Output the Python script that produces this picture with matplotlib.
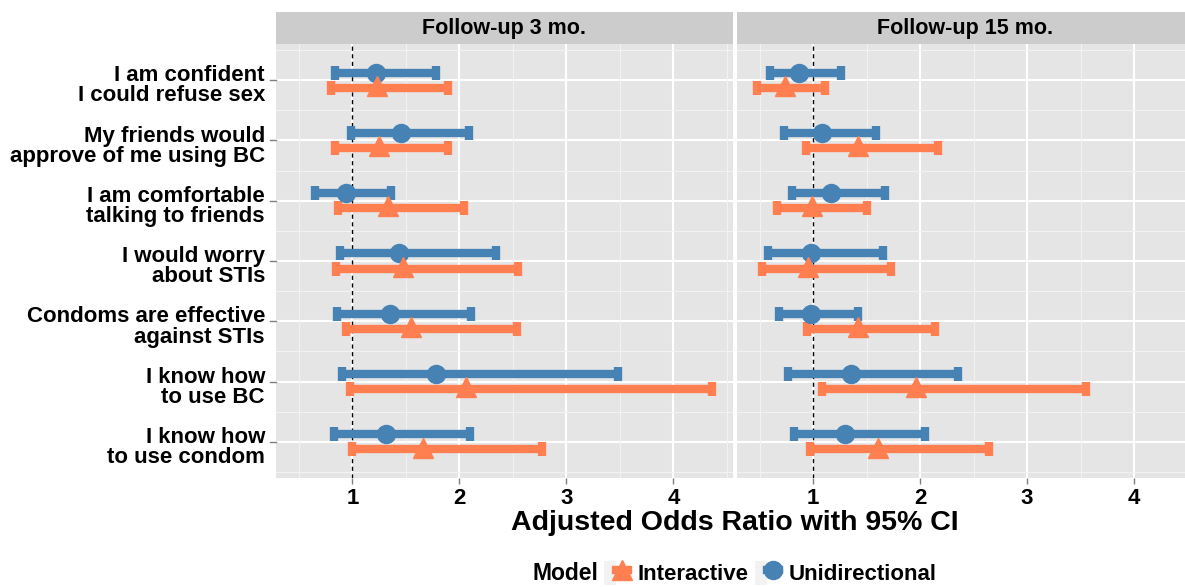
import numpy as np
import matplotlib
matplotlib.use("Agg")
import matplotlib.pyplot as plt
from matplotlib.lines import Line2D
from matplotlib.patches import Rectangle
from matplotlib.legend_handler import HandlerTuple

plt.rcParams["font.family"] = ["Liberation Sans", "DejaVu Sans"]
plt.rcParams["font.weight"] = "bold"

# questionnaire items, top to bottom
items = ["I am confident\nI could refuse sex",
         "My friends would\napprove of me using BC",
         "I am comfortable\ntalking to friends",
         "I would worry\nabout STIs",
         "Condoms are effective\nagainst STIs",
         "I know how\nto use BC",
         "I know how\nto use condom"]

panels = ["Follow-up 3 mo.", "Follow-up 15 mo."]

# follow-up 3 months
uni_est_3 = [1.22, 1.455, 0.944, 1.44, 1.355, 1.78, 1.31]
uni_lo_3 = [0.835, 0.99, 0.655, 0.88, 0.86, 0.90, 0.825]
uni_hi_3 = [1.785, 2.09, 1.365, 2.34, 2.105, 3.48, 2.10]
int_est_3 = [1.23, 1.25, 1.33, 1.47, 1.55, 2.06, 1.66]
int_lo_3 = [0.80, 0.835, 0.87, 0.85, 0.944, 0.98, 1.0]
int_hi_3 = [1.89, 1.89, 2.04, 2.55, 2.54, 4.36, 2.77]

# follow-up 15 months
uni_est_15 = [0.872, 1.087, 1.165, 0.98, 0.98, 1.35, 1.30]
uni_lo_15 = [0.598, 0.73, 0.80, 0.577, 0.685, 0.77, 0.82]
uni_hi_15 = [1.26, 1.59, 1.67, 1.65, 1.42, 2.35, 2.05]
int_est_15 = [0.738, 1.42, 0.99, 0.95, 1.42, 1.96, 1.61]
int_lo_15 = [0.48, 0.93, 0.66, 0.52, 0.94, 1.08, 0.975]
int_hi_15 = [1.11, 2.17, 1.505, 1.73, 2.14, 3.55, 2.645]

data = [
    (uni_est_3, uni_lo_3, uni_hi_3, int_est_3, int_lo_3, int_hi_3),
    (uni_est_15, uni_lo_15, uni_hi_15, int_est_15, int_lo_15, int_hi_15),
]

blue = "#4682B4"
orange = "#FF7F50"
bg = "#E5E5E5"

# shared x scale with ggplot style 5% expansion
all_vals = np.concatenate([np.array(v) for d in data for v in d])
lo, hi = all_vals.min(), all_vals.max()
pad = 0.05 * (hi - lo)
xlim = (lo - pad, hi + pad)

fig = plt.figure(figsize=(11.85, 5.87), dpi=100)
W, H = 1185, 587
pw = 456.7
lefts = [276, 736.7]
y = np.arange(len(items))
dodge = 0.125

for k, (left, title, d) in enumerate(zip(lefts, panels, data)):
    ax = fig.add_axes([left / W, 1 - 478 / H, pw / W, 434 / H])
    ax.set_facecolor(bg)
    for s in ax.spines.values():
        s.set_visible(False)
    ax.set_xlim(xlim)
    ax.set_ylim(len(items) - 0.4, -0.6)
    ax.set_xticks([1, 2, 3, 4])
    ax.set_xticks([0.5, 1.5, 2.5, 3.5, 4.5], minor=True)
    ax.set_yticks(y + 0.06)
    ax.set_yticks(np.arange(-0.5, len(items), 1), minor=True)
    ax.grid(which="minor", color="#F2F2F2", lw=0.8)
    ax.grid(which="major", axis="x", color="white", lw=1.5)
    for yy in y:
        ax.axhline(yy, color="white", lw=1.5, zorder=0.5)
    ax.set_axisbelow(True)
    ax.tick_params(which="minor", length=0)
    ax.tick_params(which="major", length=4, color="#7F7F7F", width=1, labelsize=16)
    ax.tick_params(axis="y", which="major", length=0, pad=8)
    ax.set_xticklabels(["1", "2", "3", "4"], fontweight="bold")
    if k == 0:
        ax.set_yticklabels(items, fontweight="bold", fontsize=16, linespacing=0.95)
        for yy in y:
            ax.plot([-0.013, 0], [yy, yy], color="#7F7F7F", lw=1,
                    transform=ax.get_yaxis_transform(), clip_on=False)
    else:
        ax.set_yticklabels([])
    ax.axvline(1, color="black", lw=1, ls=(0, (3, 2.5)), zorder=1.5)

    ue, ul, uh, ie, il, ih = [np.array(v) for v in d]
    ax.errorbar(ue, y - dodge, xerr=[ue - ul, uh - ue], fmt="none", ecolor=blue,
                elinewidth=6, capsize=5, capthick=6, zorder=2)
    ax.errorbar(ie, y + dodge, xerr=[ie - il, ih - ie], fmt="none", ecolor=orange,
                elinewidth=6, capsize=5, capthick=6, zorder=2)
    ax.plot(ue, y - dodge, "o", color=blue, ms=13, zorder=3)
    ax.plot(ie, y + dodge - 0.03, "^", color=orange, ms=14, zorder=3)

    # facet strip
    sax = fig.add_axes([left / W, 1 - 44 / H, pw / W, 32 / H])
    sax.set_facecolor("#CCCCCC")
    sax.set_xticks([])
    sax.set_yticks([])
    for s in sax.spines.values():
        s.set_visible(False)
    sax.text(0.5, 0.48, title, ha="center", va="center", fontsize=15.5,
             fontweight="bold", transform=sax.transAxes)

fig.text(735 / W, 1 - 523 / H, "Adjusted Odds Ratio with 95% CI", ha="center",
         va="center", fontsize=20.5, fontweight="bold")

# legend
fig.text(598 / W, 1 - 573 / H, "Model", ha="right", va="center", fontsize=16.5,
         fontweight="bold")
key_bg = dict(facecolor="#F2F2F2", edgecolor="none")
h_int = (Rectangle((0, 0), 1, 1, **key_bg),
         Line2D([], [], color=orange, lw=6, marker="^", ms=14))
h_uni = (Rectangle((0, 0), 1, 1, **key_bg),
         Line2D([], [], color=blue, lw=6, marker="o", ms=13))
fig.legend([h_int, h_uni], ["Interactive", "Unidirectional"],
           handler_map={tuple: HandlerTuple(ndivide=None)},
           loc="center left", bbox_to_anchor=(604 / W, 1 - 573 / H), ncol=2,
           frameon=False, fontsize=16, handlelength=1.1, handleheight=1.3,
           handletextpad=0.4, columnspacing=0.3, borderaxespad=0, borderpad=0)

fig.savefig("out.png", dpi=100)
